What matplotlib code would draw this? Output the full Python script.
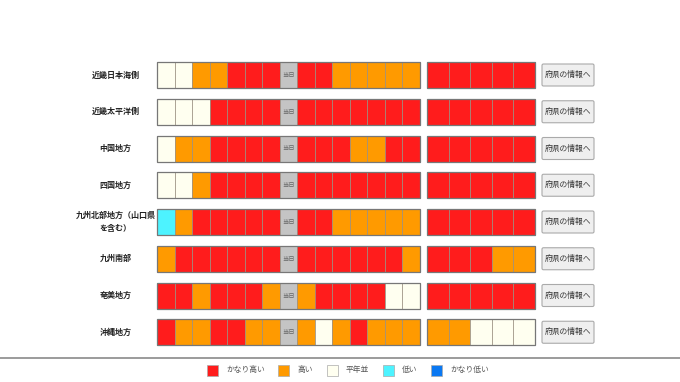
import matplotlib
matplotlib.use("Agg")
import matplotlib.pyplot as plt
from matplotlib.patches import Rectangle, FancyBboxPatch

plt.rcParams['font.family'] = ['Noto Sans CJK JP', 'DejaVu Sans']

# ---- data ----
regions = ["近畿日本海側", "近畿太平洋側", "中国地方", "四国地方",
           "九州北部地方（山口県\nを含む）", "九州南部", "奄美地方", "沖縄地方"]
# R=かなり高い, O=高い, W=平年並, C=低い, B=かなり低い, G=当日
daily = [
    "WWOORRRGRROOOOO",
    "WWWRRRRGRRRRRRR",
    "WOORRRRGRRROORR",
    "WWORRRRGRRRRRRR",
    "CORRRRRGRROOOOO",
    "ORRRRRRGRRRRRRO",
    "RRORRROGORRRRWW",
    "ROORROOGOWOROOO",
]
weekly = [
    "RRRRR",
    "RRRRR",
    "RRRRR",
    "RRRRR",
    "RRRRR",
    "RRROO",
    "RRRRR",
    "OOWWW",
]
legend_codes = ["R", "O", "W", "C", "B"]
legend_labels = ["かなり高い", "高い", "平年並", "低い", "かなり低い"]
today_label = "当日"
button_label = "府県の情報へ"

colors = {"R": "#FF1C1C", "O": "#FF9A00", "W": "#FFFFF0", "C": "#4DF3FF",
          "B": "#0A78F2", "G": "#C4C4C4"}

# ---- layout ----
fig = plt.figure(figsize=(6.8, 3.82), dpi=100)
ax = fig.add_axes([0, 0, 1, 1])
ax.set_xlim(0, 680)
ax.set_ylim(382, 0)
ax.axis("off")

row_y0, row_step, cell_h = 75, 36.75, 26
b1_x0, b1_w = 157, 17.5
b2_x0, b2_w = 427, 21.6

for i, name in enumerate(regions):
    yc = row_y0 + i * row_step
    top = yc - cell_h / 2
    ax.text(115.5, yc, name, ha="center", va="center", fontsize=5.8,
            fontweight="bold", color="#222222", linespacing=1.6)
    for j, c in enumerate(daily[i]):
        ax.add_patch(Rectangle((b1_x0 + j * b1_w, top), b1_w, cell_h,
                               facecolor=colors[c], edgecolor="#9a8f80", lw=0.5))
        if c == "G":
            ax.text(b1_x0 + j * b1_w + b1_w / 2, yc, today_label, ha="center",
                    va="center", fontsize=4.5, color="#666666")
    ax.add_patch(Rectangle((b1_x0, top), b1_w * len(daily[i]), cell_h,
                           facecolor="none", edgecolor="#777777", lw=0.9))
    for j, c in enumerate(weekly[i]):
        ax.add_patch(Rectangle((b2_x0 + j * b2_w, top), b2_w, cell_h,
                               facecolor=colors[c], edgecolor="#9a8f80", lw=0.5))
    ax.add_patch(Rectangle((b2_x0, top), b2_w * len(weekly[i]), cell_h,
                           facecolor="none", edgecolor="#777777", lw=0.9))
    ax.add_patch(FancyBboxPatch((542, yc - 11), 52, 22,
                                boxstyle="round,pad=0,rounding_size=1.5",
                                facecolor="#EFEFEF", edgecolor="#AAAAAA", lw=0.8))
    ax.text(568, yc, button_label, ha="center", va="center", fontsize=5.6,
            color="#333333")

# separator
ax.plot([0, 680], [357.5, 357.5], color="#8a8a8a", lw=1.2, solid_capstyle="butt")

# legend
leg_sq_x = [207, 278, 327, 383, 431]
leg_y = 370
for x, c, lab in zip(leg_sq_x, legend_codes, legend_labels):
    ax.add_patch(Rectangle((x, leg_y - 5.5), 10.5, 11, facecolor=colors[c],
                           edgecolor="#aaaaaa", lw=0.5))
    ax.text(x + 19, leg_y, lab, ha="left", va="center", fontsize=5.6,
            color="#555555")

fig.savefig("out.png", dpi=100)
